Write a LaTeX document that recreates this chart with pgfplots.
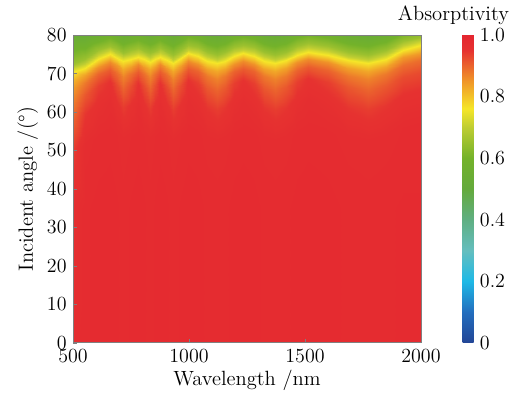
\documentclass[border=0pt]{standalone}
\usepackage{fontspec}
\usepackage{pgfplots}
\pgfplotsset{compat=1.18}
\usepackage{pgfplotstable}

\pgfplotsset{colormap={absorp}{rgb255(0)=(35,70,150) rgb255(10)=(35,110,190) rgb255(20)=(30,185,230) rgb255(30)=(100,190,190) rgb255(40)=(95,175,130) rgb255(50)=(100,170,60) rgb255(60)=(115,178,42) rgb255(70)=(190,205,50) rgb255(76)=(245,230,40) rgb255(85)=(240,150,40) rgb255(90)=(235,100,45) rgb255(95)=(230,50,48) rgb255(100)=(228,38,48)}}

% columns: wavelength; rows follow the absorptivity contour of each column
\pgfplotstableread[row sep=\\]{
x y z\\
500 0 0.97\\ 500 35 0.965\\ 500 50.3 0.94\\ 500 58.3 0.90\\ 500 63.3 0.87\\ 500 66.3 0.845\\ 500 68.3 0.815\\ 500 70.3 0.76\\ 500 71.3 0.71\\ 500 72.5 0.655\\ 500 80 0.53\\
553 0 0.976\\ 553 35 0.976\\ 553 51.5 0.971\\ 553 59.5 0.946\\ 553 64.5 0.913\\ 553 67.5 0.88\\ 553 69.5 0.838\\ 553 71.5 0.76\\ 553 72.5 0.71\\ 553 73.7 0.655\\ 553 80 0.53\\
607 0 0.979\\ 607 35 0.979\\ 607 53.8 0.974\\ 607 61.8 0.959\\ 607 66.8 0.938\\ 607 69.8 0.90\\ 607 71.8 0.853\\ 607 73.8 0.76\\ 607 74.8 0.71\\ 607 76.0 0.655\\ 607 80 0.555\\
660 0 0.98\\ 660 35 0.98\\ 660 55 0.975\\ 660 63 0.965\\ 660 68 0.95\\ 660 71 0.91\\ 660 73 0.86\\ 660 75 0.76\\ 660 76 0.71\\ 660 77.2 0.655\\ 660 80 0.585\\
688 0 0.978\\ 688 35 0.978\\ 688 54.1 0.973\\ 688 62.1 0.953\\ 688 67.1 0.925\\ 688 70.1 0.89\\ 688 72.1 0.845\\ 688 74.1 0.76\\ 688 75.1 0.71\\ 688 76.3 0.655\\ 688 80 0.562\\
717 0 0.975\\ 717 35 0.975\\ 717 53.2 0.97\\ 717 61.2 0.94\\ 717 66.2 0.90\\ 717 69.2 0.87\\ 717 71.2 0.83\\ 717 73.2 0.76\\ 717 74.2 0.71\\ 717 75.4 0.655\\ 717 80 0.54\\
749 0 0.978\\ 749 35 0.978\\ 749 53.8 0.973\\ 749 61.8 0.953\\ 749 66.8 0.925\\ 749 69.8 0.89\\ 749 71.8 0.845\\ 749 73.8 0.76\\ 749 74.8 0.71\\ 749 76.0 0.655\\ 749 80 0.555\\
781 0 0.98\\ 781 35 0.98\\ 781 54.4 0.975\\ 781 62.4 0.965\\ 781 67.4 0.95\\ 781 70.4 0.91\\ 781 72.4 0.86\\ 781 74.4 0.76\\ 781 75.4 0.71\\ 781 76.6 0.655\\ 781 80 0.57\\
806 0 0.978\\ 806 35 0.978\\ 806 53.75 0.973\\ 806 61.75 0.953\\ 806 66.75 0.925\\ 806 69.75 0.89\\ 806 71.75 0.845\\ 806 73.75 0.76\\ 806 74.75 0.71\\ 806 75.95 0.655\\ 806 80 0.554\\
832 0 0.975\\ 832 35 0.975\\ 832 53.1 0.97\\ 832 61.1 0.94\\ 832 66.1 0.90\\ 832 69.1 0.87\\ 832 71.1 0.83\\ 832 73.1 0.76\\ 832 74.1 0.71\\ 832 75.3 0.655\\ 832 80 0.538\\
853 0 0.978\\ 853 35 0.978\\ 853 53.75 0.973\\ 853 61.75 0.953\\ 853 66.75 0.925\\ 853 69.75 0.89\\ 853 71.75 0.845\\ 853 73.75 0.76\\ 853 74.75 0.71\\ 853 75.95 0.655\\ 853 80 0.554\\
875 0 0.98\\ 875 35 0.98\\ 875 54.4 0.975\\ 875 62.4 0.965\\ 875 67.4 0.95\\ 875 70.4 0.91\\ 875 72.4 0.86\\ 875 74.4 0.76\\ 875 75.4 0.71\\ 875 76.6 0.655\\ 875 80 0.57\\
903 0 0.978\\ 903 35 0.978\\ 903 53.5 0.973\\ 903 61.5 0.953\\ 903 66.5 0.925\\ 903 69.5 0.89\\ 903 71.5 0.845\\ 903 73.5 0.76\\ 903 74.5 0.71\\ 903 75.7 0.655\\ 903 80 0.548\\
932 0 0.975\\ 932 35 0.975\\ 932 52.6 0.97\\ 932 60.6 0.94\\ 932 65.6 0.90\\ 932 68.6 0.87\\ 932 70.6 0.83\\ 932 72.6 0.76\\ 932 73.6 0.71\\ 932 74.8 0.655\\ 932 80 0.53\\
965 0 0.978\\ 965 35 0.978\\ 965 53.9 0.973\\ 965 61.9 0.953\\ 965 66.9 0.925\\ 965 69.9 0.89\\ 965 71.9 0.845\\ 965 73.9 0.76\\ 965 74.9 0.71\\ 965 76.1 0.655\\ 965 80 0.558\\
997 0 0.98\\ 997 35 0.98\\ 997 55.2 0.975\\ 997 63.2 0.965\\ 997 68.2 0.95\\ 997 71.2 0.91\\ 997 73.2 0.86\\ 997 75.2 0.76\\ 997 76.2 0.71\\ 997 77.4 0.655\\ 997 80 0.59\\
1038 0 0.979\\ 1038 35 0.979\\ 1038 54.55 0.974\\ 1038 62.55 0.959\\ 1038 67.55 0.938\\ 1038 70.55 0.90\\ 1038 72.55 0.853\\ 1038 74.55 0.76\\ 1038 75.55 0.71\\ 1038 76.75 0.655\\ 1038 80 0.574\\
1078 0 0.976\\ 1078 35 0.976\\ 1078 53.25 0.971\\ 1078 61.25 0.946\\ 1078 66.25 0.913\\ 1078 69.25 0.88\\ 1078 71.25 0.838\\ 1078 73.25 0.76\\ 1078 74.25 0.71\\ 1078 75.45 0.655\\ 1078 80 0.541\\
1119 0 0.975\\ 1119 35 0.975\\ 1119 52.6 0.97\\ 1119 60.6 0.94\\ 1119 65.6 0.90\\ 1119 68.6 0.87\\ 1119 70.6 0.83\\ 1119 72.6 0.76\\ 1119 73.6 0.71\\ 1119 74.8 0.655\\ 1119 80 0.53\\
1157 0 0.976\\ 1157 35 0.976\\ 1157 53.25 0.971\\ 1157 61.25 0.946\\ 1157 66.25 0.913\\ 1157 69.25 0.88\\ 1157 71.25 0.838\\ 1157 73.25 0.76\\ 1157 74.25 0.71\\ 1157 75.45 0.655\\ 1157 80 0.541\\
1196 0 0.979\\ 1196 35 0.979\\ 1196 54.55 0.974\\ 1196 62.55 0.959\\ 1196 67.55 0.938\\ 1196 70.55 0.90\\ 1196 72.55 0.853\\ 1196 74.55 0.76\\ 1196 75.55 0.71\\ 1196 76.75 0.655\\ 1196 80 0.574\\
1234 0 0.98\\ 1234 35 0.98\\ 1234 55.2 0.975\\ 1234 63.2 0.965\\ 1234 68.2 0.95\\ 1234 71.2 0.91\\ 1234 73.2 0.86\\ 1234 75.2 0.76\\ 1234 76.2 0.71\\ 1234 77.4 0.655\\ 1234 80 0.59\\
1280 0 0.979\\ 1280 35 0.979\\ 1280 54.55 0.974\\ 1280 62.55 0.959\\ 1280 67.55 0.938\\ 1280 70.55 0.90\\ 1280 72.55 0.853\\ 1280 74.55 0.76\\ 1280 75.55 0.71\\ 1280 76.75 0.655\\ 1280 80 0.574\\
1325 0 0.976\\ 1325 35 0.976\\ 1325 53.25 0.971\\ 1325 61.25 0.946\\ 1325 66.25 0.913\\ 1325 69.25 0.88\\ 1325 71.25 0.838\\ 1325 73.25 0.76\\ 1325 74.25 0.71\\ 1325 75.45 0.655\\ 1325 80 0.541\\
1371 0 0.975\\ 1371 35 0.975\\ 1371 52.6 0.97\\ 1371 60.6 0.94\\ 1371 65.6 0.90\\ 1371 68.6 0.87\\ 1371 70.6 0.83\\ 1371 72.6 0.76\\ 1371 73.6 0.71\\ 1371 74.8 0.655\\ 1371 80 0.53\\
1419 0 0.976\\ 1419 35 0.976\\ 1419 53.4 0.971\\ 1419 61.4 0.946\\ 1419 66.4 0.913\\ 1419 69.4 0.88\\ 1419 71.4 0.838\\ 1419 73.4 0.76\\ 1419 74.4 0.71\\ 1419 75.6 0.655\\ 1419 80 0.545\\
1466 0 0.979\\ 1466 35 0.979\\ 1466 54.9 0.974\\ 1466 62.9 0.959\\ 1466 67.9 0.938\\ 1466 70.9 0.90\\ 1466 72.9 0.853\\ 1466 74.9 0.76\\ 1466 75.9 0.71\\ 1466 77.1 0.655\\ 1466 80 0.583\\
1514 0 0.98\\ 1514 35 0.98\\ 1514 55.7 0.975\\ 1514 63.7 0.965\\ 1514 68.7 0.95\\ 1514 71.7 0.91\\ 1514 73.7 0.86\\ 1514 75.7 0.76\\ 1514 76.7 0.71\\ 1514 77.9 0.655\\ 1514 80 0.603\\
1600 0 0.979\\ 1600 35 0.979\\ 1600 54.9 0.974\\ 1600 62.9 0.959\\ 1600 67.9 0.938\\ 1600 70.9 0.90\\ 1600 72.9 0.853\\ 1600 74.9 0.76\\ 1600 75.9 0.71\\ 1600 77.1 0.655\\ 1600 80 0.583\\
1685 0 0.976\\ 1685 35 0.976\\ 1685 53.4 0.971\\ 1685 61.4 0.946\\ 1685 66.4 0.913\\ 1685 69.4 0.88\\ 1685 71.4 0.838\\ 1685 73.4 0.76\\ 1685 74.4 0.71\\ 1685 75.6 0.655\\ 1685 80 0.545\\
1770 0 0.975\\ 1770 35 0.975\\ 1770 52.6 0.97\\ 1770 60.6 0.94\\ 1770 65.6 0.90\\ 1770 68.6 0.87\\ 1770 70.6 0.83\\ 1770 72.6 0.76\\ 1770 73.6 0.71\\ 1770 74.8 0.655\\ 1770 80 0.53\\
1847 0 0.976\\ 1847 35 0.976\\ 1847 53.8 0.971\\ 1847 61.8 0.946\\ 1847 66.8 0.913\\ 1847 69.8 0.88\\ 1847 71.8 0.838\\ 1847 73.8 0.76\\ 1847 74.8 0.71\\ 1847 76.0 0.655\\ 1847 80 0.555\\
1923 0 0.978\\ 1923 35 0.978\\ 1923 56.2 0.973\\ 1923 64.2 0.953\\ 1923 69.2 0.925\\ 1923 72.2 0.89\\ 1923 74.2 0.845\\ 1923 76.2 0.76\\ 1923 77.2 0.71\\ 1923 78.4 0.655\\ 1923 80 0.615\\
2000 0 0.978\\ 2000 35 0.978\\ 2000 57.4 0.973\\ 2000 65.4 0.953\\ 2000 70.4 0.925\\ 2000 73.4 0.89\\ 2000 75.4 0.845\\ 2000 77.4 0.76\\ 2000 78.4 0.71\\ 2000 79.6 0.655\\ 2000 80 0.645\\
}\absdata

\begin{document}
\begin{tikzpicture}
\begin{axis}[name=main,
  scale only axis, width=191pt, height=169pt,
  xmin=500, xmax=2000, ymin=0, ymax=80,
  xtick={500,1000,1500,2000}, ytick={0,10,...,80},
  view={0}{90},
  colormap name=absorp,
  point meta min=0, point meta max=1,
  tick pos=left, tick align=inside, major tick length=2.2pt,
  axis line style={gray, line width=0.5pt}, tick style={gray},
  /pgf/number format/assume math mode=true,
  /pgf/number format/1000 sep={},
  tick label style={font=\fontsize{11}{13}\selectfont},
  label style={font=\fontsize{11.3}{13}\selectfont},
  xlabel={Wavelength /nm}, ylabel={Incident angle /(°)},
  xlabel style={yshift=3pt},
  ylabel style={yshift=-2pt},
  axis on top,
  colorbar,
  colorbar style={
    at={(parent axis.north east)}, anchor=north west, xshift=14.3pt,
    width=6pt,
    ytick={0,0.2,0.4,0.6,0.8,1}, yticklabels={0,0.2,0.4,0.6,0.8,1.0},
    major tick length=0pt,
    axis line style={draw=none},
    tick label style={font=\fontsize{11}{13}\selectfont},
    title={Absorptivity},
    title style={font=\fontsize{11.3}{13}\selectfont, xshift=-8pt, yshift=-4pt},
  },
]
\addplot3[surf, shader=interp, mesh/rows=11, mesh/cols=34, mesh/ordering=y varies] table[x=x, y=y, z=z] {\absdata};
\end{axis}
\pgfresetboundingbox
\path ([xshift=-40.1pt,yshift=-28.5pt]main.south west) rectangle ([xshift=53.8pt,yshift=19.2pt]main.north east);
\end{tikzpicture}
\end{document}
